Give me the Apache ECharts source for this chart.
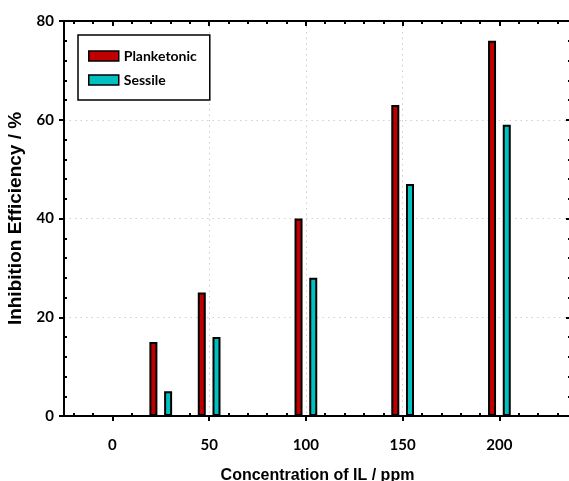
<!DOCTYPE html>
<html>
<head>
<meta charset="utf-8">
<script src="https://cdn.jsdelivr.net/npm/echarts@6/dist/echarts.min.js"></script>
<style>
  html, body { margin: 0; padding: 0; background: #fff; }
  #chart { width: 569px; height: 481px; }
</style>
</head>
<body>
<div id="chart"></div>
<script>
// concentration of IL (ppm) and inhibition efficiency (%)
const concentrations = [25, 50, 100, 150, 200];
const planktonic = [15, 25, 40, 63, 76];
const sessile = [5, 16, 28, 47, 59];

const xMajorTicks = [0, 50, 100, 150, 200];
const yMajorTicks = [0, 20, 40, 60, 80];
const xMinorTicks = [];
for (let v = -20; v <= 230; v += 10) if (v % 50 !== 0) xMinorTicks.push(v);
const yMinorTicks = [];
for (let v = 4; v < 80; v += 4) if (v % 20 !== 0) yMinorTicks.push(v);

const X_MIN = -25, X_MAX = 237;
const Y_MIN = 0, Y_MAX = 80;

const tickFont = "Lato";
const titleFont = "Liberation Sans";

// extra axes that only carry tick marks (frame style of the original plot)
function tickAxis(dim, position, values, length, inside, showLine) {
  return {
    type: "value",
    position: position,
    min: dim === "x" ? X_MIN : Y_MIN,
    max: dim === "x" ? X_MAX : Y_MAX,
    axisLine: { show: showLine, onZero: false, lineStyle: { color: "#000", width: 2 } },
    axisTick: {
      show: true,
      inside: inside,
      length: length,
      customValues: values,
      lineStyle: { color: "#000", width: 2 },
    },
    axisLabel: { show: false },
    splitLine: { show: false },
  };
}

const chart = echarts.init(document.getElementById("chart"), null, { renderer: "canvas" });

const option = {
  animation: false,
  backgroundColor: "#fff",
  grid: { left: 64, right: -2, top: 21, bottom: 65, outerBoundsMode: "none", containLabel: false },
  legend: {
    orient: "vertical",
    left: 78,
    top: 35,
    padding: [14, 13, 13, 10],
    itemWidth: 30,
    itemHeight: 10,
    itemGap: 10,
    icon: "rect",
    borderColor: "#000",
    borderWidth: 1.5,
    itemStyle: { borderColor: "#000", borderWidth: 1.5 },
    textStyle: { fontFamily: tickFont, fontWeight: "bold", fontSize: 14, color: "#000" },
    data: ["Planketonic", "Sessile"],
  },
  xAxis: [
    {
      type: "value",
      position: "bottom",
      min: X_MIN,
      max: X_MAX,
      name: "Concentration of IL / ppm",
      nameLocation: "middle",
      nameGap: 52,
      nameTextStyle: { fontFamily: titleFont, fontWeight: "bold", fontSize: 16, color: "#000" },
      axisLine: { onZero: false, lineStyle: { color: "#000", width: 2 } },
      axisTick: {
        inside: false,
        length: 5,
        customValues: xMajorTicks,
        lineStyle: { color: "#000", width: 2 },
      },
      axisLabel: {
        customValues: xMajorTicks,
        margin: 22,
        fontFamily: tickFont,
        fontWeight: "bold",
        fontSize: 15,
        color: "#000",
      },
      splitLine: {
        show: true,
        showMinLine: false,
        showMaxLine: false,
        lineStyle: { color: "#cfcfcf", width: 1, type: [1.5, 4] },
      },
    },
    tickAxis("x", "bottom", xMinorTicks, 3, true, false),
    tickAxis("x", "top", xMajorTicks, 5, true, true),
    tickAxis("x", "top", xMinorTicks, 3, true, false),
  ],
  yAxis: [
    {
      type: "value",
      position: "left",
      min: Y_MIN,
      max: Y_MAX,
      interval: 20,
      name: "Inhibition Efficiency / %",
      nameLocation: "middle",
      nameGap: 35,
      nameTextStyle: { fontFamily: titleFont, fontWeight: "bold", fontSize: 19, color: "#000" },
      axisLine: { show: true, onZero: false, lineStyle: { color: "#000", width: 2 } },
      axisTick: {
        inside: false,
        length: 5,
        customValues: yMajorTicks,
        lineStyle: { color: "#000", width: 2 },
      },
      axisLabel: {
        margin: 10,
        fontFamily: tickFont,
        fontWeight: "bold",
        fontSize: 15,
        color: "#000",
      },
      splitLine: {
        show: true,
        showMinLine: false,
        showMaxLine: false,
        lineStyle: { color: "#cfcfcf", width: 1, type: [1.5, 4] },
      },
    },
    tickAxis("y", "left", yMinorTicks, 3, true, false),
    tickAxis("y", "right", yMajorTicks, 5, true, true),
    tickAxis("y", "right", yMinorTicks, 3, true, false),
  ],
  series: [
    {
      name: "Planketonic",
      type: "bar",
      xAxisIndex: 0,
      yAxisIndex: 0,
      barWidth: 8,
      barGap: "84%",
      data: concentrations.map((c, i) => [c, planktonic[i]]),
      itemStyle: { color: "#C00000", borderColor: "#000", borderWidth: 2 },
    },
    {
      name: "Sessile",
      type: "bar",
      xAxisIndex: 0,
      yAxisIndex: 0,
      barWidth: 8,
      barGap: "84%",
      data: concentrations.map((c, i) => [c, sessile[i]]),
      itemStyle: { color: "#00C0C0", borderColor: "#000", borderWidth: 2 },
    },
  ],
};

chart.setOption(option);
</script>
</body>
</html>
